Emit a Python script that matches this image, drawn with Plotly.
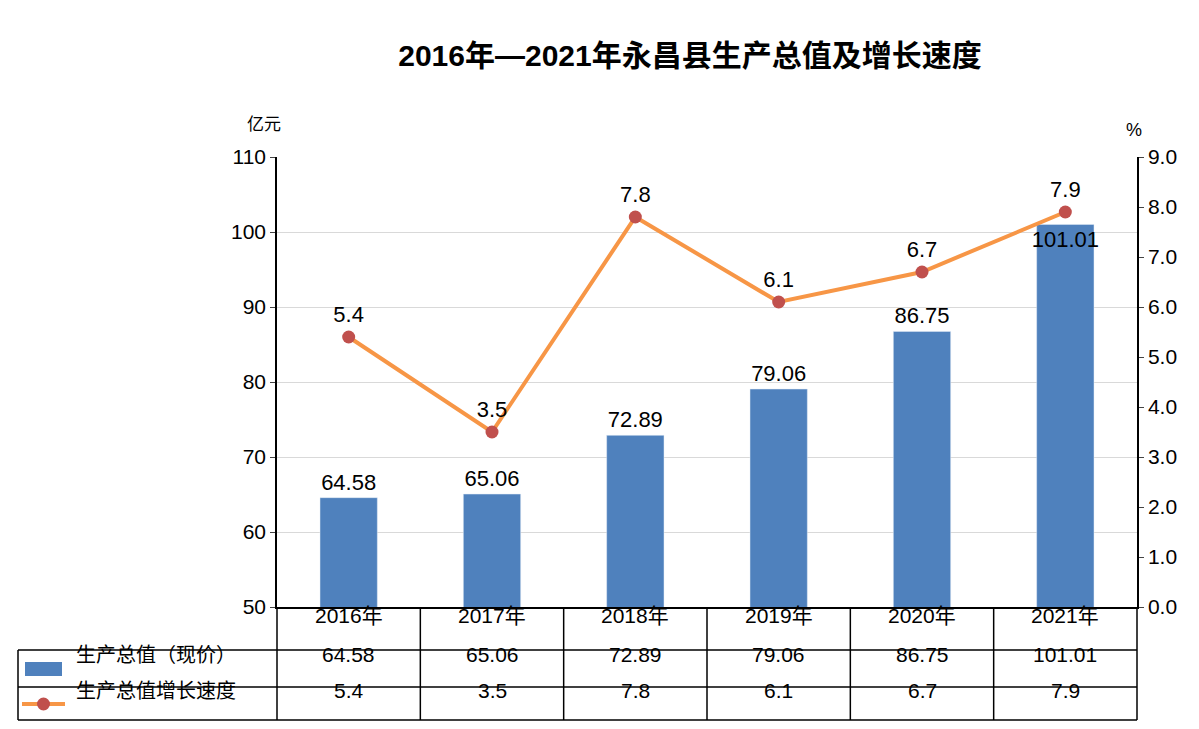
import plotly.graph_objects as go

years = ["2016年", "2017年", "2018年", "2019年", "2020年", "2021年"]
gdp = [64.58, 65.06, 72.89, 79.06, 86.75, 101.01]
growth = [5.4, 3.5, 7.8, 6.1, 6.7, 7.9]
series_names = ["生产总值（现价）", "生产总值增长速度"]

F = "Liberation Sans, Noto Sans CJK SC, sans-serif"
BLUE, ORANGE, RED = "#4F81BD", "#F79646", "#C0504D"
xs = list(range(len(years)))

fig = go.Figure()
fig.add_trace(go.Bar(x=xs, y=gdp, width=0.4, marker_color=BLUE,
                     text=[f"{v:.2f}" for v in gdp], textangle=0,
                     textposition=["outside"] * 5 + ["inside"], insidetextanchor="end",
                     textfont=dict(size=22, color="black", family=F), cliponaxis=False,
                     constraintext="none", showlegend=False))
fig.add_trace(go.Scatter(x=xs, y=growth, yaxis="y2", mode="lines+markers+text",
                         line=dict(color=ORANGE, width=4),
                         marker=dict(color=RED, size=13),
                         text=[f"{v:.1f}" for v in growth], textposition="top center",
                         textfont=dict(size=22, color="black", family=F),
                         cliponaxis=False, showlegend=False))

fig.update_layout(
    width=1199, height=729, margin=dict(l=269, r=70, t=149, b=130),
    plot_bgcolor="white", paper_bgcolor="white", font=dict(family=F, color="black"),
    title=dict(text="<b>2016年—2021年永昌县生产总值及增长速度</b>", x=(690 - 8) / 1199, xanchor="center",
               y=1 - 47 / 729, yanchor="middle", font=dict(size=30, family=F)),
    xaxis=dict(range=[-0.5, 5.5], showticklabels=False, showgrid=False, zeroline=False,
               showline=True, linecolor="black", linewidth=1.5),
    yaxis=dict(range=[50, 110], dtick=10, showgrid=True, gridcolor="#D9D9D9",
               showline=True, linecolor="black", linewidth=1.5, ticks="outside",
               tickfont=dict(size=21), zeroline=False),
    yaxis2=dict(range=[0, 9], dtick=1, tickformat=".1f", overlaying="y", side="right",
                showgrid=False, showline=True, linecolor="black", linewidth=1.5,
                ticks="outside", tickfont=dict(size=21), zeroline=False),
)

H = 450.0
def py(pix): return (607 - pix) / H
x_left = (18 - 277) / 860
shapes = []
L = dict(color="black", width=1.5)
for yy in [650, 687, 720]:
    shapes.append(dict(type="line", xref="paper", yref="paper", x0=x_left, x1=1, y0=py(yy), y1=py(yy), line=L))
shapes.append(dict(type="line", xref="paper", yref="paper", x0=x_left, x1=x_left, y0=py(650), y1=py(720), line=L))
for i in range(len(years) + 1):
    xp = i / len(years)
    shapes.append(dict(type="line", xref="paper", yref="paper", x0=xp, x1=xp, y0=0, y1=py(720), line=L))
shapes.append(dict(type="rect", xref="paper", yref="paper", x0=(25 - 277) / 860, x1=(62 - 277) / 860,
                   y0=py(676), y1=py(662), fillcolor=BLUE, line=dict(width=0)))
shapes.append(dict(type="line", xref="paper", yref="paper", x0=(22 - 277) / 860, x1=(65 - 277) / 860,
                   y0=py(704), y1=py(704), line=dict(color=ORANGE, width=4)))
shapes.append(dict(type="circle", xref="paper", yref="paper", x0=(37 - 277) / 860, x1=(50 - 277) / 860,
                   y0=py(710.5), y1=py(697.5), fillcolor=RED, line=dict(width=0)))
fig.update_layout(shapes=shapes)

ann = []
for i in xs:
    ann.append(dict(x=i, xref="x", y=py(629), yref="paper", text=years[i], showarrow=False, font=dict(size=21)))
    ann.append(dict(x=i, xref="x", y=py(668), yref="paper", text=f"{gdp[i]:.2f}", showarrow=False, font=dict(size=21)))
    ann.append(dict(x=i, xref="x", y=py(704), yref="paper", text=f"{growth[i]:.1f}", showarrow=False, font=dict(size=21)))
ann.append(dict(x=(74 - 277) / 860, xref="paper", y=py(668), yref="paper", xanchor="left", text=series_names[0], showarrow=False, font=dict(size=20)))
ann.append(dict(x=(74 - 277) / 860, xref="paper", y=py(704), yref="paper", xanchor="left", text=series_names[1], showarrow=False, font=dict(size=20)))
ann.append(dict(x=(245 - 277) / 860, xref="paper", y=py(113), yref="paper", text="亿元", showarrow=False, font=dict(size=17)))
ann.append(dict(x=(1144 - 277) / 860, xref="paper", y=py(118), yref="paper", text="%", showarrow=False, font=dict(size=18)))
fig.update_layout(annotations=ann)

fig.write_html("out.html")
